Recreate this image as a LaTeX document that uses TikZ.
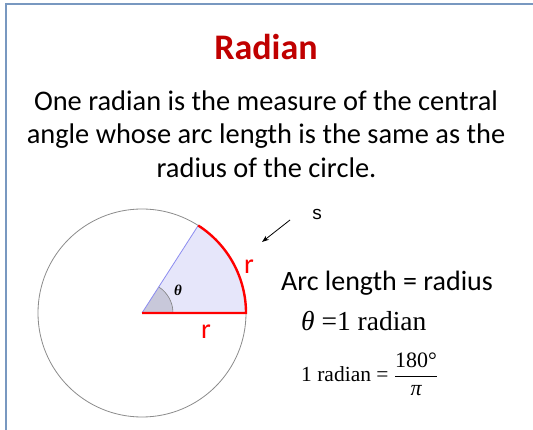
\documentclass[tikz,border=0pt]{standalone}
\usepackage{fontspec}
\setmainfont{Carlito}
\newfontfamily\tnr{Liberation Serif}
\newfontfamily\arl{Liberation Sans}
\usetikzlibrary{arrows.meta,calc}
\definecolor{framec}{RGB}{120,152,192}
\definecolor{titlered}{RGB}{192,0,0}
\definecolor{sectc}{RGB}{230,230,250}
\definecolor{wedgec}{RGB}{200,200,218}
\definecolor{radblue}{RGB}{140,140,240}
\begin{document}
\begin{tikzpicture}[x=1pt,y=-1pt,
  bodytxt/.style={anchor=base,inner sep=0pt,font=\fontsize{28.4}{34}\selectfont},
  redlab/.style={text=red,inner sep=0pt,font=\fontsize{28}{30}\selectfont},
  serifl/.style={anchor=base west,inner sep=0pt}]
\useasboundingbox (0,0) rectangle (533,430);
\fill[white] (0,0) rectangle (533,430);
\draw[framec,line width=1.6pt] (6,430) -- (6,4) -- (533,4);
% title and text
\node[anchor=base,inner sep=0pt,text=titlered,font=\bfseries\fontsize{36}{40}\selectfont] (title) at (266,60) {Radian};
\node[bodytxt] (l1) at (266,111) {One radian is the measure of the central};
\node[bodytxt] (l2) at (266,143.5) {angle whose arc length is the same as the};
\node[bodytxt] (l3) at (266.5,178) {radius of the circle.};
% circle
\coordinate (O) at (142,313);
\coordinate (A) at (246,313);
\coordinate (W) at (173,313);
\coordinate (E) at (198.2,225.5);
\fill[sectc] (O) -- (A) arc[start angle=0,end angle=-57.3,radius=104] -- cycle;
\fill[wedgec] (O) -- (W) arc[start angle=0,end angle=-57.3,radius=31] -- cycle;
\draw[gray,line width=0.6pt] (W) arc[start angle=0,end angle=-57.3,radius=31];
\draw[gray!90,line width=0.8pt] (O) circle (104);
\draw[radblue,line width=0.8pt] (O) -- (E);
\draw[red,line width=2.4pt] (O) -- (A) arc[start angle=0,end angle=-57.3,radius=104];
\node[inner sep=0pt,font=\tnr\bfseries\itshape\fontsize{15}{15}\selectfont] (th) at (178,290) {θ};
\node[redlab] (r1) at (249,267) {r};
\node[redlab] (r2) at (206,332) {r};
% arrow and s
\node[anchor=base,inner sep=0pt,font=\arl\fontsize{19}{19}\selectfont] (s) at (317,220) {s};
\coordinate (s1) at (290,220);
\coordinate (s2) at (262,242);
\draw[-{Stealth[length=7pt,width=5pt]},line width=0.8pt] (s1) -- (s2);
% formulas
\node[serifl,font=\fontsize{28}{30}\selectfont] (arc) at (281,290.5) {Arc length = radius};
\node[serifl,font=\tnr\fontsize{27.5}{30}\selectfont] (eq1) at (301,330.5) {{\itshape θ} =1 radian};
\node[serifl,font=\tnr\fontsize{21.5}{24}\selectfont] (eq2) at (301,381.5) {1 radian = $\displaystyle\frac{\mbox{\tnr\fontsize{22}{24}\selectfont 180°}}{\mbox{\tnr\itshape\fontsize{22}{24}\selectfont π}}$};
\end{tikzpicture}
\end{document}
